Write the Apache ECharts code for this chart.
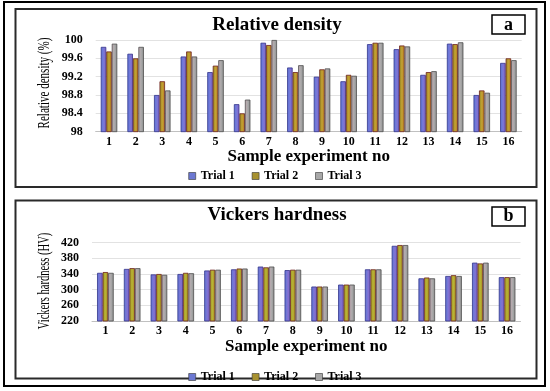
<!DOCTYPE html>
<html>
<head>
<meta charset="utf-8">
<script src="https://cdn.jsdelivr.net/npm/echarts@6/dist/echarts.min.js"></script>
<style>html,body{margin:0;padding:0;background:#fff;}#c{width:550px;height:391px;}</style>
</head>
<body>
<div id="c"></div>
<script>
const categories = ['1','2','3','4','5','6','7','8','9','10','11','12','13','14','15','16'];
const trialNames = ['Trial 1','Trial 2','Trial 3'];

const densityTrial1 = [99.85, 99.70, 98.80, 99.64, 99.30, 98.60, 99.94, 99.40, 99.20, 99.10, 99.91, 99.80, 99.24, 99.92, 98.80, 99.50];
const densityTrial2 = [99.75, 99.60, 99.10, 99.75, 99.44, 98.40, 99.89, 99.30, 99.36, 99.24, 99.94, 99.88, 99.30, 99.91, 98.90, 99.60];
const densityTrial3 = [99.92, 99.85, 98.90, 99.64, 99.56, 98.70, 100.0, 99.45, 99.38, 99.22, 99.94, 99.86, 99.32, 99.95, 98.85, 99.56];

const hardnessTrial1 = [343, 353, 339, 340, 349, 352, 359, 350, 308, 313, 352, 412, 329, 335, 369, 332];
const hardnessTrial2 = [345, 355, 340, 343, 351, 354, 357, 351, 308, 313, 352, 414, 331, 337, 367, 332];
const hardnessTrial3 = [343, 355, 338, 342, 351, 354, 359, 351, 308, 313, 352, 414, 329, 335, 369, 332];

const densityTicks = {min: 98, max: 100, interval: 0.4};
const hardnessTicks = {min: 220, max: 420, interval: 40};

const serif = "'Liberation Serif', 'DejaVu Serif', serif";

function grad(stops){
  return new echarts.graphic.LinearGradient(0,0,1,0, stops.map((c,i)=>({offset:i/(stops.length-1), color:c})));
}
const stylesA = [
  {color: grad(['#5878d8','#7878d8','#8a62c4']), borderColor:'#34348a', borderWidth:0.8},
  {color: grad(['#8c8a22','#c4a032','#b47c22']), borderColor:'#6e2020', borderWidth:0.8},
  {color: grad(['#c4a8b0','#aaaaaa','#8e8e8e']), borderColor:'#4e4e4e', borderWidth:0.8}
];
const stylesB = [
  {color: grad(['#5a7ad6','#7c74d4','#8a62c4']), borderColor:'#34348a', borderWidth:0.8},
  {color: grad(['#9a9a26','#bab234','#a08a20']), borderColor:'#6e2020', borderWidth:0.8},
  {color: grad(['#c4a4b0','#ababab','#8e8e8e']), borderColor:'#4e4e4e', borderWidth:0.8}
];
const legendColors = ['#6c78d2','#a89230','#a8a8a8'];

const chart = echarts.init(document.getElementById('c'), null, {renderer:'canvas'});

function xAx(gridIndex){
  return {
    type:'category', gridIndex, data: categories,
    axisLine:{lineStyle:{color:'#c0c0c0', width:1}},
    axisTick:{show:false},
    axisLabel:{color:'#000', fontFamily:serif, fontWeight:'bold', fontSize:12, margin:4},
    name:'Sample experiment no', nameLocation:'middle', nameGap:16,
    nameTextStyle:{color:'#000', fontFamily:serif, fontWeight:'bold', fontSize:17}
  };
}
function yAx(gridIndex, ticks){
  return {
    type:'value', gridIndex, min:ticks.min, max:ticks.max, interval:ticks.interval,
    axisLine:{show:false}, axisTick:{show:false},
    splitLine:{lineStyle:{color:'#e2e2e2', width:1}},
    axisLabel:{color:'#000', fontFamily:serif, fontWeight:'bold', fontSize:12, margin:13}
  };
}
function mkSeries(data, i, axisIdx, styles){
  return {
    type:'bar', name: trialNames[i], xAxisIndex:axisIdx, yAxisIndex:axisIdx,
    data: data, barGap:'0%', barCategoryGap:'38%', itemStyle: styles[i], silent:true
  };
}
function legendAt(top){
  return {
    top: top, left:'center', padding:0, itemWidth:7, itemHeight:7, itemGap:17, icon:'rect',
    data: trialNames.map((n,i)=>({name:n, itemStyle:{color:legendColors[i], borderColor:'#333', borderWidth:0.6}})),
    textStyle:{color:'#000', fontFamily:serif, fontWeight:'bold', fontSize:12},
    selectedMode:false
  };
}
function yName(text, x, y, sx){
  return {type:'text', x:x, y:y, rotation:Math.PI/2, scaleX:sx, scaleY:1,
    style:{text:text, fill:'#000', font:"17px 'Liberation Serif', serif", textAlign:'center', textVerticalAlign:'middle'}, silent:true};
}

chart.setOption({
  animation:false,
  backgroundColor:'#fff',
  title:[
    {text:'Relative density', left:277, top:16, padding:0, textAlign:'center',
     textStyle:{fontFamily:serif, fontWeight:'bold', fontSize:19, color:'#000'}},
    {text:'Vickers hardness', left:277, top:206, padding:0, textAlign:'center',
     textStyle:{fontFamily:serif, fontWeight:'bold', fontSize:19, color:'#000'}}
  ],
  grid:[
    {left:95.7, right:28.3, top:40, bottom:259.3, containLabel:false},
    {left:92, right:29.5, top:242.7, bottom:70, containLabel:false}
  ],
  legend:[legendAt(170), legendAt(371)],
  xAxis:[xAx(0), xAx(1)],
  yAxis:[yAx(0, densityTicks), yAx(1, hardnessTicks)],
  series:[
    mkSeries(densityTrial1,0,0,stylesA),
    mkSeries(densityTrial2,1,0,stylesA),
    mkSeries(densityTrial3,2,0,stylesA),
    mkSeries(hardnessTrial1,0,1,stylesB),
    mkSeries(hardnessTrial2,1,1,stylesB),
    mkSeries(hardnessTrial3,2,1,stylesB)
  ],
  graphic:[
    {type:'rect', shape:{x:4,y:2,width:541,height:384}, style:{fill:'none', stroke:'#000', lineWidth:2}, silent:true, z:-1},
    {type:'rect', shape:{x:15.5,y:9,width:521,height:178}, style:{fill:'none', stroke:'#2a2a2a', lineWidth:2}, silent:true, z:-1},
    {type:'rect', shape:{x:15.5,y:200.5,width:521,height:178}, style:{fill:'none', stroke:'#2a2a2a', lineWidth:2}, silent:true, z:-1},
    {type:'rect', shape:{x:492,y:15,width:33,height:19}, style:{fill:'#fff', stroke:'#000', lineWidth:1.5}, silent:true},
    {type:'text', x:508.5, y:25, style:{text:'a', fill:'#000', font:"bold 18px 'Liberation Serif', serif", textAlign:'center', textVerticalAlign:'middle'}, silent:true},
    {type:'rect', shape:{x:492,y:207,width:33,height:19}, style:{fill:'#fff', stroke:'#000', lineWidth:1.5}, silent:true},
    {type:'text', x:508.5, y:216.5, style:{text:'b', fill:'#000', font:"bold 18px 'Liberation Serif', serif", textAlign:'center', textVerticalAlign:'middle'}, silent:true},
    yName('Relative density (%)', 45, 83, 0.65),
    yName('Vickers hardness (HV)', 45, 281, 0.62)
  ]
});
</script>
</body>
</html>
